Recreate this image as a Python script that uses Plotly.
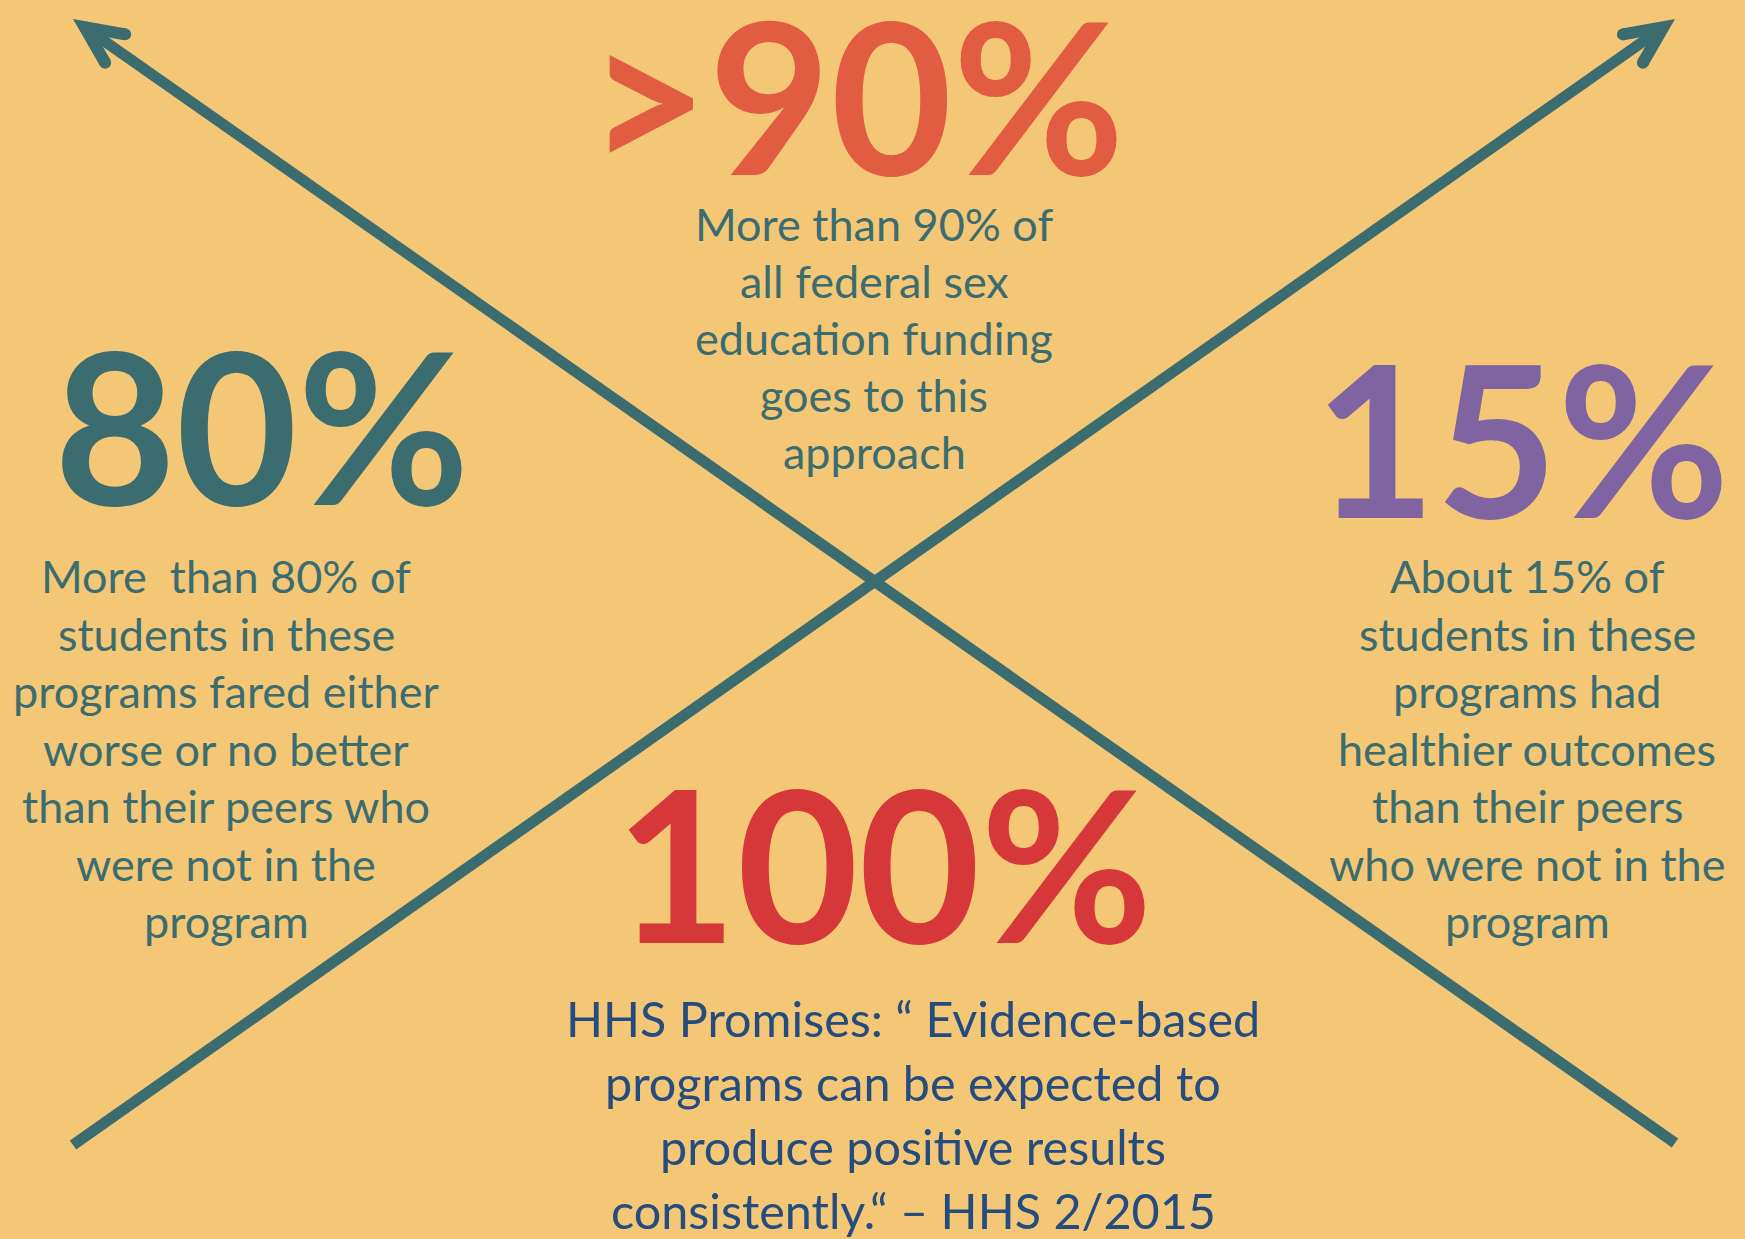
import numpy as np
import plotly.graph_objects as go

W, H = 1745, 1239
BG = "#F4C776"
TEAL = "#3B6D70"
FONT = "Lato"

# arrow shafts: tail -> tip (pixel coordinates, y down)
arrow_tail_x = [1675, 73]
arrow_tail_y = [1143, 1145]
arrow_tip_x = [73, 1675]
arrow_tip_y = [19, 19]

# big headline numbers
big_labels = [">90%", "80%", "15%", "100%"]
big_x = [856, 262, 1522, 884]
big_y = [94, 424, 437, 862]
big_colors = ["#E15C41", TEAL, "#8064A2", "#D6383A"]

# body text blocks
top_lines = ["More than 90% of", "all federal sex", "education funding", "goes to this", "approach"]
left_lines = ["More\u00a0 than 80% of", "students in these", "programs fared either",
              "worse or no better", "than their peers who", "were not in the", "program"]
right_lines = ["About 15% of", "students in these", "programs had", "healthier outcomes",
               "than their peers", "who were not in the", "program"]
quote_lines = ["HHS Promises: \u201c Evidence-based", "programs can be expected to",
               "produce positive results", "consistently.\u201c \u2013 HHS 2/2015"]

blocks = [
    # lines, center x, first line y, line step, size, color
    (top_lines, 874, 224, 57, 45, TEAL),
    (left_lines, 226, 576, 57.5, 45, TEAL),
    (right_lines, 1527, 576, 57.5, 45, TEAL),
    (quote_lines, 913, 1018, 64, 48.5, "#244C7F"),
]

fig = go.Figure()


def arrow_head(tx, ty, bx, by, length=54, half_angle=25, thick=12):
    """Chevron polygon + wing-end centres for an arrow tip at (tx, ty)."""
    t = np.array([tx, ty], float)
    d = np.array([bx - tx, by - ty], float)
    d /= np.hypot(*d)
    a = np.radians(half_angle)
    notch = t + d * thick / np.sin(a)
    outer, inner, caps = [], [], []
    for s in (1, -1):
        c, sn = np.cos(s * a), np.sin(s * a)
        w = np.array([d[0] * c - d[1] * sn, d[0] * sn + d[1] * c])
        n = d - np.dot(d, w) * w
        n /= np.hypot(*n)
        o = t + length * w
        outer.append(o)
        inner.append(o + thick * n)
        caps.append(o + thick / 2 * n)
    poly = [t, outer[0], inner[0], notch, inner[1], outer[1], t]
    return np.array(poly), np.array(caps), d


for tx0, ty0, hx, hy in zip(arrow_tail_x, arrow_tail_y, arrow_tip_x, arrow_tip_y):
    poly, caps, d = arrow_head(hx, hy, tx0, ty0)
    shaft_end = np.array([hx, hy]) + d * 22
    fig.add_trace(go.Scatter(
        x=[tx0, shaft_end[0]], y=[ty0, shaft_end[1]], mode="lines",
        line=dict(color=TEAL, width=11), hoverinfo="skip", showlegend=False))
    fig.add_trace(go.Scatter(
        x=poly[:, 0], y=poly[:, 1], mode="lines", fill="toself", fillcolor=TEAL,
        line=dict(width=0, color=TEAL), hoverinfo="skip", showlegend=False))
    fig.add_trace(go.Scatter(
        x=caps[:, 0], y=caps[:, 1], mode="markers",
        marker=dict(color=TEAL, size=12, line=dict(width=0)),
        hoverinfo="skip", showlegend=False))

for label, x, y, col in zip(big_labels, big_x, big_y, big_colors):
    fig.add_annotation(x=x, y=y, text=f"<b>{label}</b>", showarrow=False,
                       xanchor="center", yanchor="middle",
                       font=dict(family=FONT, size=210, color=col))

for lines, cx, y0, step, size, col in blocks:
    for i, line in enumerate(lines):
        fig.add_annotation(x=cx, y=y0 + i * step, text=line, showarrow=False,
                           xanchor="center", yanchor="middle",
                           font=dict(family=FONT, size=size, color=col))

fig.update_layout(
    width=W, height=H,
    margin=dict(l=0, r=0, t=0, b=0),
    paper_bgcolor=BG, plot_bgcolor=BG,
    xaxis=dict(range=[0, W], visible=False, fixedrange=True),
    yaxis=dict(range=[H, 0], visible=False, fixedrange=True),
)

# page body has a default 8px margin; drop it so the figure fills the window
fig.write_html("out.html", config={"displayModeBar": False},
               post_script="document.body.style.margin='0';")
